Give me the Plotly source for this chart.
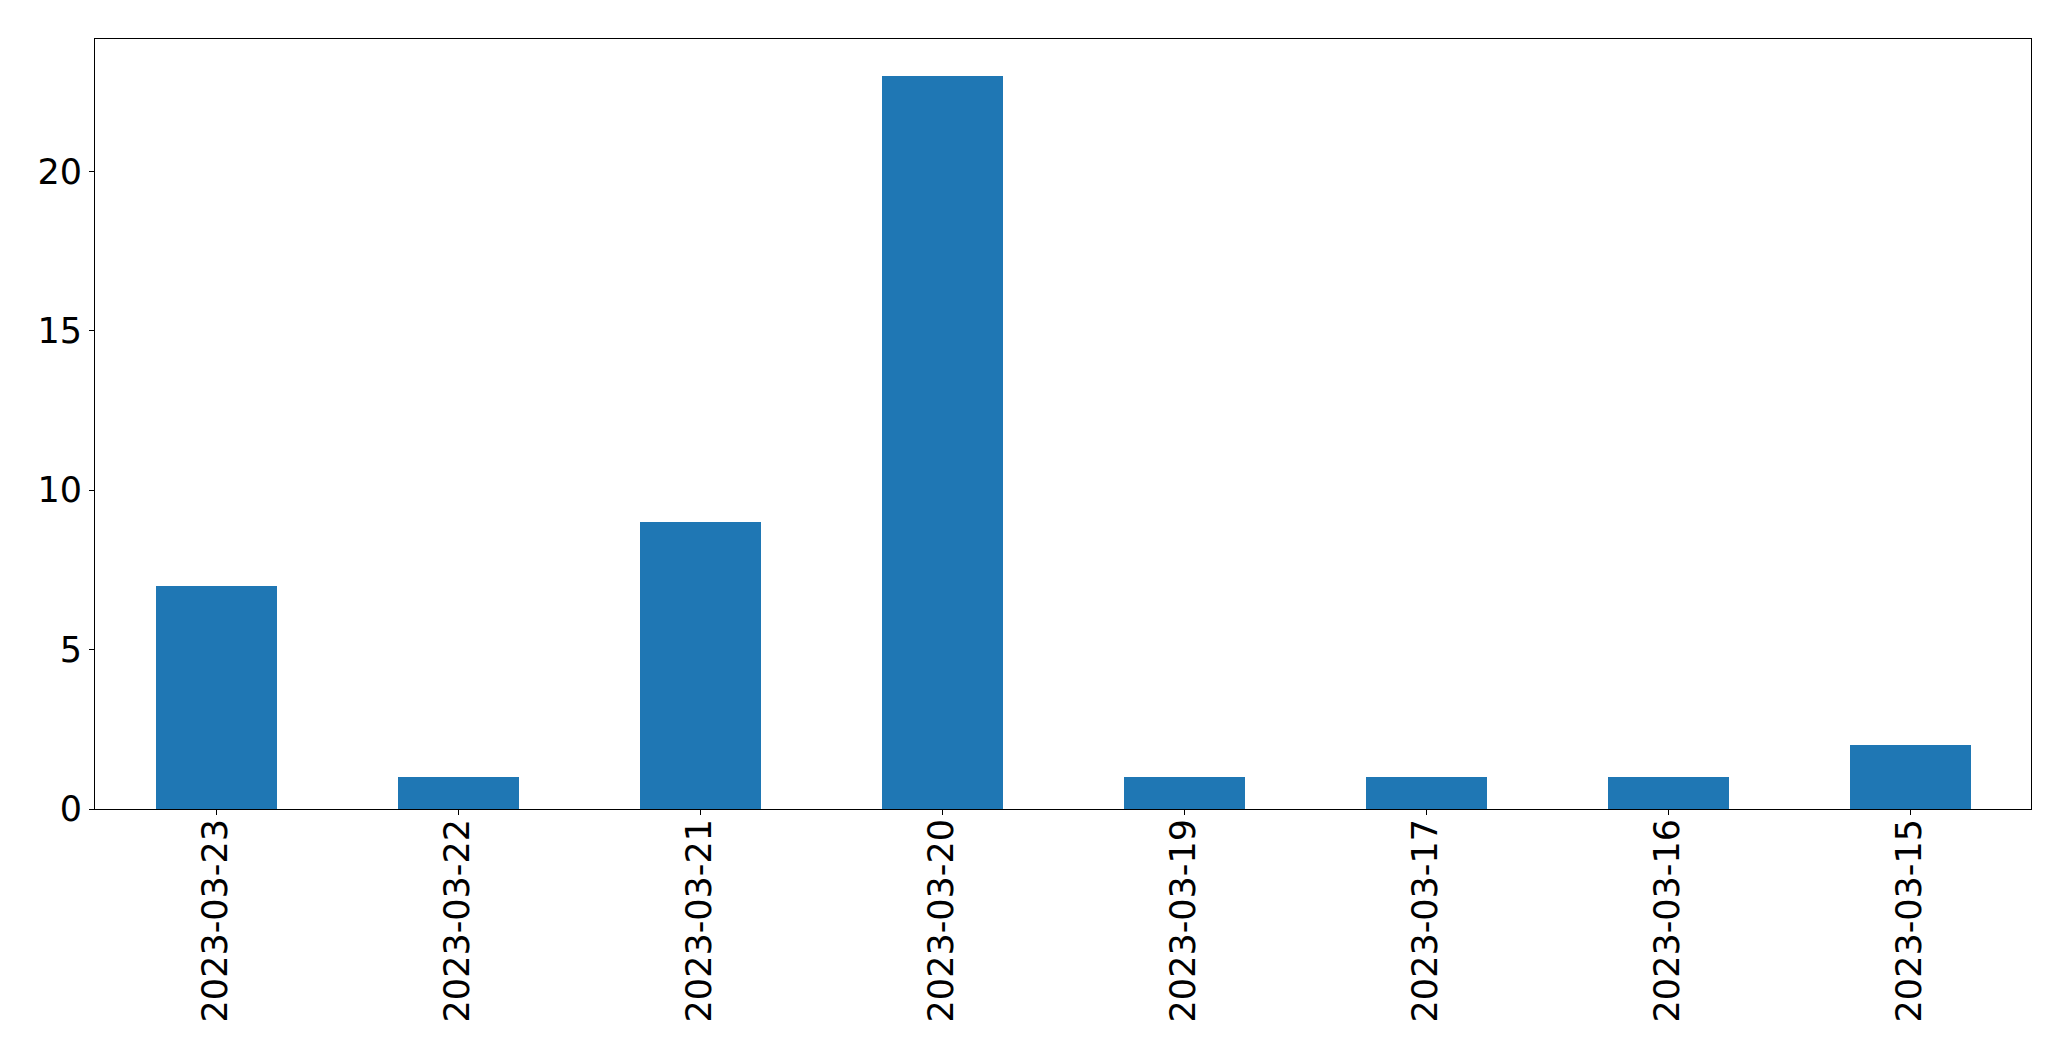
import plotly.graph_objects as go

dates = ["2023-03-23", "2023-03-22", "2023-03-21", "2023-03-20",
         "2023-03-19", "2023-03-17", "2023-03-16", "2023-03-15"]
counts = [7, 1, 9, 23, 1, 1, 1, 2]
y_ticks = [0, 5, 10, 15, 20]

fig = go.Figure(go.Bar(x=dates, y=counts, width=0.5, marker_color="#1f77b4",
                       marker_line_width=0))

font = dict(family="DejaVu Sans", size=35, color="black")
# page body adds an 8px offset; compensate in margins
fig.update_layout(
    width=2071, height=1061,
    margin=dict(l=87, r=48, t=31, b=260, autoexpand=False),
    plot_bgcolor="white", paper_bgcolor="white",
    showlegend=False,
    bargap=0,
)
fig.update_xaxes(type="category", range=[-0.5, 7.5], tickangle=-90,
                 showline=True, mirror=True, linecolor="black", linewidth=1,
                 ticks="outside", ticklen=5, tickcolor="black", tickwidth=1,
                 showgrid=False, tickfont=font, zeroline=False,
                 ticklabelstandoff=-10)
fig.update_yaxes(range=[0, 24.15], tickvals=y_ticks,
                 showline=True, mirror=True, linecolor="black", linewidth=1,
                 ticks="outside", ticklen=5, tickcolor="black", tickwidth=1,
                 showgrid=False, tickfont=font, zeroline=False)

fig.write_html("out.html")
